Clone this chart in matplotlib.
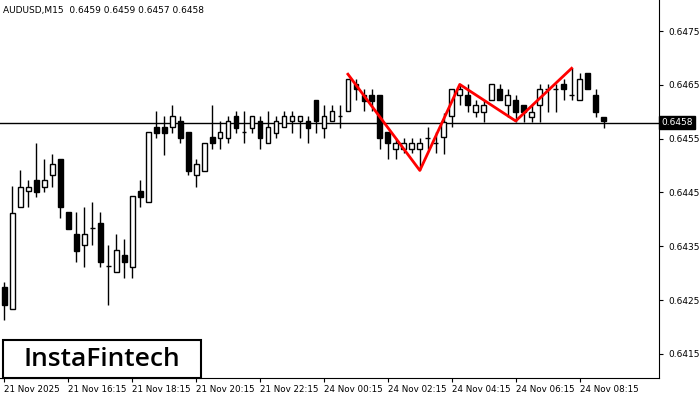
import matplotlib

matplotlib.use("Agg")
import matplotlib.pyplot as plt
from matplotlib.patches import Rectangle

# OHLC of AUDUSD M15 candles
opens = [0.64274, 0.64233, 0.64423, 0.64452, 0.64473, 0.64460, 0.64482, 0.64512, 0.64413, 0.64372,
         0.64352, 0.64384, 0.64393, 0.64313, 0.64302, 0.64333, 0.64311, 0.64452, 0.64432, 0.64571,
         0.64571, 0.64571, 0.64583, 0.64562, 0.64482, 0.64490, 0.64553, 0.64551, 0.64551, 0.64592,
         0.64562, 0.64570, 0.64583, 0.64542, 0.64560, 0.64571, 0.64583, 0.64583, 0.64583, 0.64622,
         0.64570, 0.64583, 0.64592, 0.64601, 0.64651, 0.64631, 0.64631, 0.64631, 0.64562, 0.64531,
         0.64531, 0.64531, 0.64531, 0.64551, 0.64542, 0.64553, 0.64592, 0.64631, 0.64631, 0.64599,
         0.64599, 0.64622, 0.64642, 0.64612, 0.64622, 0.64612, 0.64590, 0.64612, 0.64642, 0.64642,
         0.64651, 0.64631, 0.64622, 0.64672, 0.64631, 0.64590]
highs = [0.64283, 0.64462, 0.64491, 0.64473, 0.64542, 0.64512, 0.64521, 0.64512, 0.64413, 0.64413,
         0.64423, 0.64432, 0.64413, 0.64352, 0.64372, 0.64363, 0.64443, 0.64473, 0.64562, 0.64601,
         0.64592, 0.64612, 0.64592, 0.64562, 0.64512, 0.64542, 0.64612, 0.64583, 0.64592, 0.64601,
         0.64601, 0.64592, 0.64592, 0.64601, 0.64592, 0.64601, 0.64601, 0.64592, 0.64592, 0.64622,
         0.64612, 0.64612, 0.64612, 0.64661, 0.64661, 0.64642, 0.64642, 0.64631, 0.64562, 0.64551,
         0.64551, 0.64551, 0.64551, 0.64571, 0.64562, 0.64597, 0.64642, 0.64651, 0.64651, 0.64622,
         0.64622, 0.64651, 0.64651, 0.64642, 0.64631, 0.64612, 0.64612, 0.64651, 0.64651, 0.64651,
         0.64661, 0.64681, 0.64672, 0.64672, 0.64642, 0.64590]
lows = [0.64212, 0.64233, 0.64423, 0.64423, 0.64441, 0.64451, 0.64460, 0.64402, 0.64382, 0.64320,
        0.64311, 0.64352, 0.64311, 0.64240, 0.64302, 0.64291, 0.64291, 0.64423, 0.64432, 0.64551,
        0.64519, 0.64560, 0.64542, 0.64482, 0.64460, 0.64490, 0.64531, 0.64531, 0.64542, 0.64560,
        0.64542, 0.64560, 0.64531, 0.64542, 0.64551, 0.64571, 0.64560, 0.64551, 0.64542, 0.64560,
        0.64551, 0.64583, 0.64570, 0.64601, 0.64622, 0.64601, 0.64601, 0.64531, 0.64512, 0.64512,
        0.64523, 0.64523, 0.64491, 0.64531, 0.64523, 0.64521, 0.64571, 0.64612, 0.64599, 0.64590,
        0.64581, 0.64622, 0.64622, 0.64590, 0.64581, 0.64581, 0.64581, 0.64581, 0.64599, 0.64599,
        0.64622, 0.64622, 0.64622, 0.64642, 0.64590, 0.64570]
closes = [0.64240, 0.64411, 0.64460, 0.64460, 0.64451, 0.64473, 0.64503, 0.64423, 0.64382, 0.64341,
          0.64372, 0.64384, 0.64320, 0.64313, 0.64343, 0.64320, 0.64443, 0.64441, 0.64562, 0.64560,
          0.64560, 0.64592, 0.64551, 0.64490, 0.64503, 0.64542, 0.64542, 0.64562, 0.64583, 0.64570,
          0.64562, 0.64592, 0.64551, 0.64571, 0.64583, 0.64592, 0.64592, 0.64592, 0.64570, 0.64583,
          0.64592, 0.64601, 0.64592, 0.64661, 0.64642, 0.64620, 0.64620, 0.64551, 0.64542, 0.64542,
          0.64542, 0.64542, 0.64542, 0.64551, 0.64542, 0.64581, 0.64642, 0.64642, 0.64612, 0.64612,
          0.64612, 0.64651, 0.64622, 0.64631, 0.64599, 0.64599, 0.64599, 0.64642, 0.64642, 0.64642,
          0.64642, 0.64631, 0.64661, 0.64642, 0.64599, 0.64583]

# pattern (red zigzag): candle index and price
pattern_idx = [43, 52, 57, 64, 71]
pattern_price = [0.6467, 0.64491, 0.64651, 0.64583, 0.64681]

last_price = 0.6458
price_ticks = [0.6415, 0.6425, 0.6435, 0.6445, 0.6455, 0.6465, 0.6475]
time_idx = [0, 8, 16, 24, 32, 40, 48, 56, 64, 72]
time_labels = ["21 Nov 2025", "21 Nov 16:15", "21 Nov 18:15", "21 Nov 20:15", "21 Nov 22:15",
               "24 Nov 00:15", "24 Nov 02:15", "24 Nov 04:15", "24 Nov 06:15", "24 Nov 08:15"]

fig = plt.figure(figsize=(7, 4), dpi=100)
ax = fig.add_axes([0.0, 0.055, 0.941, 0.945])
ax.set_xlim(-0.55, 81.9)
ax.set_ylim(0.64105, 0.64808)

w = 0.6
for i, (o, h, l, c) in enumerate(zip(opens, highs, lows, closes)):
    ax.vlines(i, l, h, color="black", linewidth=1)
    lo, hi = min(o, c), max(o, c)
    face = "white" if c > o else "black"
    if hi - lo < 0.00002:
        ax.hlines(o, i - w / 2, i + w / 2, color="black", linewidth=1)
    else:
        ax.add_patch(Rectangle((i - w / 2, lo), w, hi - lo, facecolor=face,
                               edgecolor="black", linewidth=1, zorder=3))

ax.plot(pattern_idx, pattern_price, color="#ff0000", linewidth=2, zorder=4)
ax.axhline(last_price, color="black", linewidth=1)

ax.yaxis.tick_right()
ax.set_yticks(price_ticks)
ax.set_yticklabels([f"{t:.4f}" for t in price_ticks], fontsize=6.5)
ax.text(1.004, last_price, f"{last_price:.4f}", transform=ax.get_yaxis_transform(),
        fontsize=6.5, color="white", va="center", ha="left",
        bbox=dict(facecolor="black", edgecolor="black", pad=1.5))
ax.set_xticks(time_idx)
ax.set_xticklabels(time_labels, fontsize=6.3, ha="left")
ax.tick_params(axis="x", length=3, pad=2)
ax.tick_params(axis="y", length=3, pad=4)
for s in ["top", "left"]:
    ax.spines[s].set_visible(False)

ax.text(0.005, 0.985, "AUDUSD,M15  0.6459 0.6459 0.6457 0.6458", transform=ax.transAxes,
        fontsize=6.5, va="top", ha="left")

# logo box
ax.add_patch(Rectangle((0.005, 0.0), 0.3, 0.1, transform=ax.transAxes, facecolor="white",
                       edgecolor="black", linewidth=1.5, zorder=5, clip_on=False))
ax.text(0.155, 0.05, "InstaFintech", transform=ax.transAxes, fontsize=19,
        va="center", ha="center", zorder=6, family="Open Sans", weight="semibold")

fig.savefig("out.png", dpi=100)
